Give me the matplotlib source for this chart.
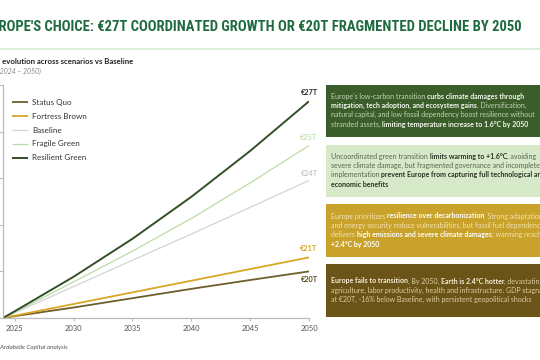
import matplotlib
matplotlib.use("Agg")
import matplotlib.pyplot as plt
from matplotlib.patches import Rectangle
from matplotlib import font_manager

# ---------------- data ----------------
years = [2024, 2025, 2030, 2035, 2040, 2045, 2050]
status_quo = [18.0, 18.08, 18.45, 18.85, 19.25, 19.63, 20.0]
fortress_brown = [18.0, 18.1, 18.6, 19.1, 19.6, 20.1, 20.6]
baseline = [18.0, 18.22, 19.35, 20.48, 21.6, 22.75, 23.9]
fragile_green = [18.0, 18.25, 19.55, 20.87, 22.27, 23.8, 25.4]
resilient_green = [18.0, 18.29, 19.77, 21.4, 23.2, 25.17, 27.3]
series_names = ["Status Quo", "Fortress Brown", "Baseline", "Fragile Green", "Resilient Green"]
end_labels = ["€20T", "€21T", "€24T", "€25T", "€27T"]
x_ticks = [2025, 2030, 2035, 2040, 2045, 2050]
y_ticks = [18, 20, 22, 24, 26, 28]

title_full = "EUROPE'S CHOICE: €27T COORDINATED GROWTH OR €20T FRAGMENTED DECLINE BY 2050"
subtitle = "GDP evolution across scenarios vs Baseline"
period = "(2024 – 2050)"
source = "Source: Ardabelle Capital analysis"

box_texts = [
    [[("Europe's low-carbon transition ", False), ("curbs climate damages through", True)],
     [("mitigation, tech adoption, and ecosystem gains", True), (". Diversification,", False)],
     [("natural capital, and low fossil dependency boost resilience without", False)],
     [("stranded assets, ", False), ("limiting temperature increase to 1.6°C by 2050", True)]],
    [[("Uncoordinated green transition ", False), ("limits warming to +1.6°C", True), (", avoiding", False)],
     [("severe climate damage, but fragmented governance and incomplete", False)],
     [("implementation ", False), ("prevent Europe from capturing full technological and", True)],
     [("economic benefits", True)]],
    [[("Europe prioritizes ", False), ("resilience over decarbonization", True), (". Strong adaptation", False)],
     [("and energy security reduce vulnerabilities, but fossil fuel dependence", False)],
     [("delivers ", False), ("high emissions and severe climate damages", True), ("; warming reaches", False)],
     [("+2.4°C by 2050", True)]],
    [[("Europe fails to transition", True), (". By 2050, ", False), ("Earth is 2.4°C hotter", True), (", devastating", False)],
     [("agriculture, labor productivity, health and infrastructure. GDP stagnates", False)],
     [("at €20T, -16% below Baseline, with persistent geopolitical shocks", False)]],
]

# ---------------- style ----------------
W, H = 540, 360
FONT = "Lato"
colors = {"Status Quo": "#6f5d2c", "Fortress Brown": "#d9a626", "Baseline": "#d4d4d4",
          "Fragile Green": "#b9dca6", "Resilient Green": "#344f27"}
widths = {"Status Quo": 1.3, "Fortress Brown": 1.3, "Baseline": 0.9,
          "Fragile Green": 0.9, "Resilient Green": 1.4}
label_colors = ["#5b4a18", "#d4a322", "#c9c9c9", "#c6e2b4", "#2a2a2a"]
label_offsets = [-6, 6.5, 5.0, 5.8, 6.5]

fig = plt.figure(figsize=(W / 100, H / 100), dpi=100)
fig.patch.set_facecolor("white")
renderer = fig.canvas.get_renderer()


def fx(px):
    return px / W


def fy(py):
    return 1 - py / H


def text_w(s, size, **kw):
    t = fig.text(0, 0, s, fontsize=size, **kw)
    w = t.get_window_extent(renderer).width
    t.remove()
    return w


def adv_w(s, size, **kw):
    # advance width including spaces
    return text_w(s + "x", size, **kw) - text_w("x", size, **kw)


def fit_size(visible, target, base, **kw):
    return base * target / text_w(visible, base, **kw)


# ---------------- axes ----------------
ax = fig.add_axes([fx(3), fy(318), fx(309) - fx(3), fy(85) - fy(318)])
all_series = [status_quo, fortress_brown, baseline, fragile_green, resilient_green]
for name, vals in zip(series_names, all_series):
    ax.plot(years, vals, color=colors[name], lw=widths[name], label=name, solid_capstyle="butt")
ax.set_xlim(2024, 2050)
ax.set_ylim(18, 28)
ax.set_xticks(x_ticks)
ax.set_yticks(y_ticks)
ax.tick_params(axis="y", labelleft=False, length=3, color="#bbbbbb", width=0.8)
ax.tick_params(axis="x", length=2, color="#bbbbbb", width=0.8, labelsize=5.5,
               labelcolor="#555555", pad=3)
for lab in ax.get_xticklabels():
    lab.set_fontfamily(FONT)
for s in ["top", "right"]:
    ax.spines[s].set_visible(False)
for s in ["left", "bottom"]:
    ax.spines[s].set_color("#bbbbbb")
    ax.spines[s].set_linewidth(0.9)
ax.set_facecolor("none")

leg = ax.legend(loc="upper left", bbox_to_anchor=(0.02, 0.955), frameon=False,
                prop={"family": FONT, "size": 5.8}, handlelength=1.9, handletextpad=0.55,
                labelspacing=0.86, borderaxespad=0)
for t in leg.get_texts():
    t.set_color("#333333")

for vals, lab, c, off in zip(all_series, end_labels, label_colors, label_offsets):
    ax.annotate(lab, (years[-1], vals[-1]), xytext=(0, off), textcoords="offset points",
                ha="center", va="center", fontsize=5.3, fontweight="bold", color=c,
                family=FONT, annotation_clip=False)

# ---------------- title ----------------
def pick_narrow():
    for fam in ["Liberation Sans Narrow", "DejaVu Sans Condensed", "Roboto Condensed"]:
        try:
            font_manager.findfont(font_manager.FontProperties(family=fam, weight="bold"),
                                  fallback_to_default=False)
            return fam
        except Exception:
            pass
    return "Roboto"


tfam = pick_narrow()
tsize = fit_size(title_full[2:], 522, 10, fontweight="bold", family=tfam)
fig.text(fx(522), fy(27), title_full, ha="right", va="center", fontsize=tsize,
         fontweight="bold", family=tfam, color="#1f6b3f")
fig.add_artist(plt.Line2D([0, 1], [fy(49), fy(49)], transform=fig.transFigure,
                          color="#d6ebd6", lw=1.2))

ssize = fit_size(subtitle[4:], 133, 5, fontweight="bold", family=FONT)
fig.text(fx(133), fy(62), subtitle, ha="right", va="center", fontsize=ssize,
         fontweight="bold", family=FONT, color="#222222")
psize = fit_size(period[1:], 41, 4.4, style="italic", family=FONT)
fig.text(fx(41), fy(71), period, ha="right", va="center", fontsize=psize,
         style="italic", family=FONT, color="#888888")
srcsize = fit_size(source[8:], 68, 4.3, style="italic", family=FONT)
fig.text(fx(68), fy(347), source, ha="right", va="center", fontsize=srcsize,
         style="italic", family=FONT, color="#555555")

# ---------------- boxes ----------------
box_y = [(85, 137), (145, 197), (204, 257), (264, 317)]
box_bg = ["#3b5d2a", "#d6e9c8", "#c9a22b", "#6b5417"]
box_norm = ["#c2d3b4", "#5a6650", "#f3e2b0", "#dccca0"]
box_bold = ["#f4f8ef", "#2b3322", "#ffffff", "#f7efd8"]
line_y0 = [96, 156, 216, 281]
line_step = 9.4
BSIZE = fit_size(box_texts[3][2][0][0], 204, 4.75, family=FONT)


def rich_line(x, y, segs, cn, cb):
    for txt, bold in segs:
        wt = "bold" if bold else "normal"
        fig.text(fx(x), fy(y), txt, fontsize=BSIZE, fontweight=wt,
                 family=FONT, color=cb if bold else cn, ha="left", va="center")
        x += adv_w(txt, BSIZE, fontweight=wt, family=FONT)


for i, (y0, y1) in enumerate(box_y):
    fig.add_artist(Rectangle((fx(326), fy(y1)), fx(560) - fx(326), fy(y0) - fy(y1),
                             transform=fig.transFigure, facecolor=box_bg[i], edgecolor="none"))
    for j, segs in enumerate(box_texts[i]):
        rich_line(331, line_y0[i] + j * line_step, segs, box_norm[i], box_bold[i])

fig.savefig("out.png", dpi=100)
